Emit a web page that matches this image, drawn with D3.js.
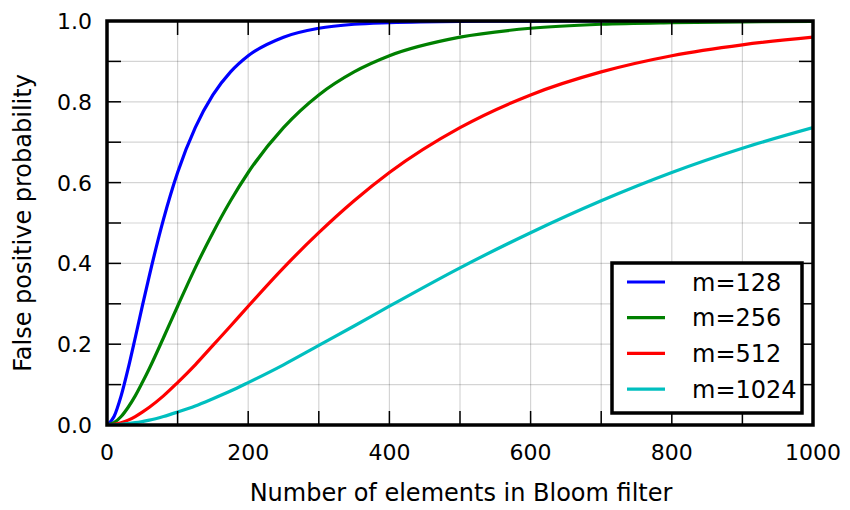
<!DOCTYPE html>
<html>
<head>
<meta charset="utf-8">
<script src="https://cdn.jsdelivr.net/npm/d3@7"></script>
<style>
  body { margin: 0; background: #fff; }
  svg { display: block; font-family: "DejaVu Sans", sans-serif; }
</style>
</head>
<body>
<div id="chart"></div>
<script>
// number of elements (shared x values)
const nValues = [0, 10, 20, 30, 40, 50, 60, 80, 100, 125, 150, 175, 200, 250, 300, 350, 400, 500, 600, 700, 800, 900, 1000];

// false positive probability, one list per filter size
const m128 = [0, 0.021, 0.072, 0.140, 0.216, 0.294, 0.370, 0.509, 0.625, 0.736, 0.817, 0.874, 0.914, 0.960, 0.982, 0.992, 0.996, 0.9992, 0.9998, 1.0, 1.0, 1.0, 1.0];
const m256 = [0, 0.0057, 0.021, 0.044, 0.072, 0.105, 0.140, 0.216, 0.294, 0.389, 0.476, 0.555, 0.625, 0.736, 0.817, 0.874, 0.914, 0.960, 0.982, 0.992, 0.996, 0.998, 0.999];
const m512 = [0, 0.0015, 0.0057, 0.012, 0.021, 0.032, 0.044, 0.072, 0.105, 0.149, 0.197, 0.245, 0.294, 0.389, 0.476, 0.555, 0.625, 0.736, 0.817, 0.874, 0.914, 0.941, 0.960];
const m1024 = [0, 0.0004, 0.0015, 0.0032, 0.0057, 0.0087, 0.012, 0.021, 0.032, 0.047, 0.065, 0.084, 0.105, 0.149, 0.197, 0.245, 0.294, 0.389, 0.476, 0.555, 0.625, 0.685, 0.736];

const seriesNames = ["m=128", "m=256", "m=512", "m=1024"];
const seriesColors = ["#0000ff", "#008000", "#ff0000", "#00bfbf"];
const seriesValues = [m128, m256, m512, m1024];

const xTickLabels = [0, 200, 400, 600, 800, 1000];
const yTickLabels = [0, 0.2, 0.4, 0.6, 0.8, 1.0];

const width = 850, height = 510;
const margin = { top: 21, right: 37, bottom: 85, left: 107 };
const innerWidth = width - margin.left - margin.right;
const innerHeight = height - margin.top - margin.bottom;

const svg = d3.select("#chart").append("svg")
  .attr("width", width).attr("height", height);

// scales in page coordinates
const xScale = d3.scaleLinear().domain([0, 1000]).range([margin.left, margin.left + innerWidth]);
const yScale = d3.scaleLinear().domain([0, 1]).range([margin.top + innerHeight, margin.top]);
const x0 = margin.left, x1 = margin.left + innerWidth;
const y0 = margin.top + innerHeight, y1 = margin.top;

// grid lines every 100 / 0.1
const xMinor = d3.range(0, 1001, 100);
const yMinor = d3.range(0, 11).map(d => d / 10);

svg.append("g").selectAll("line").data(xMinor).join("line")
  .attr("x1", d => xScale(d)).attr("x2", d => xScale(d))
  .attr("y1", y1).attr("y2", y0)
  .attr("stroke", "#000").attr("stroke-opacity", 0.17).attr("stroke-width", 1.2);
svg.append("g").selectAll("line").data(yMinor).join("line")
  .attr("y1", d => yScale(d)).attr("y2", d => yScale(d))
  .attr("x1", x0).attr("x2", x1)
  .attr("stroke", "#000").attr("stroke-opacity", 0.17).attr("stroke-width", 1.2);

// curves
svg.append("clipPath").attr("id", "clip").append("rect")
  .attr("x", x0).attr("y", y1)
  .attr("width", innerWidth).attr("height", innerHeight);

const line = d3.line()
  .x((d, i) => xScale(nValues[i]))
  .y(d => yScale(d))
  .curve(d3.curveMonotoneX);

svg.append("g").attr("clip-path", "url(#clip)")
  .selectAll("path").data(seriesValues).join("path")
  .attr("d", line)
  .attr("fill", "none")
  .attr("stroke", (d, i) => seriesColors[i])
  .attr("stroke-width", 3.2);

// ticks on all four sides, pointing inward
const tickLen = 14;
const tickStyle = sel => sel.attr("stroke", "#000").attr("stroke-width", 1.5);
const ticks = svg.append("g");
xMinor.forEach(v => {
  ticks.append("line").attr("x1", xScale(v)).attr("x2", xScale(v))
    .attr("y1", y0).attr("y2", y0 - tickLen).call(tickStyle);
  ticks.append("line").attr("x1", xScale(v)).attr("x2", xScale(v))
    .attr("y1", y1).attr("y2", y1 + tickLen).call(tickStyle);
});
yMinor.forEach(v => {
  ticks.append("line").attr("y1", yScale(v)).attr("y2", yScale(v))
    .attr("x1", x0).attr("x2", x0 + tickLen).call(tickStyle);
  ticks.append("line").attr("y1", yScale(v)).attr("y2", yScale(v))
    .attr("x1", x1).attr("x2", x1 - tickLen).call(tickStyle);
});

// tick labels
svg.append("g").selectAll("text").data(xTickLabels).join("text")
  .attr("x", d => xScale(d)).attr("y", y0 + 35)
  .attr("text-anchor", "middle").attr("font-size", 22)
  .text(d => d);
svg.append("g").selectAll("text").data(yTickLabels).join("text")
  .attr("x", x0 - 15).attr("y", d => yScale(d) + 8)
  .attr("text-anchor", "end").attr("font-size", 22)
  .text(d3.format(".1f"));

// frame
svg.append("rect").attr("x", x0).attr("y", y1)
  .attr("width", innerWidth).attr("height", innerHeight)
  .attr("fill", "none").attr("stroke", "#000").attr("stroke-width", 3.5);

// axis titles
svg.append("text")
  .attr("x", margin.left + innerWidth / 2 + 1).attr("y", 501)
  .attr("text-anchor", "middle").attr("font-size", 24)
  .text("Number of elements in Bloom filter");
svg.append("text")
  .attr("transform", `translate(31,${margin.top + innerHeight / 2}) rotate(-90)`)
  .attr("text-anchor", "middle").attr("font-size", 24)
  .text("False positive probability");

// legend
const legend = svg.append("g").attr("transform", "translate(612,263)");
legend.append("rect").attr("width", 190).attr("height", 150)
  .attr("fill", "#fff").attr("stroke", "#000").attr("stroke-width", 3.5);
seriesNames.forEach((name, i) => {
  const y = 19 + i * 35.7;
  legend.append("line").attr("x1", 15).attr("x2", 53)
    .attr("y1", y).attr("y2", y)
    .attr("stroke", seriesColors[i]).attr("stroke-width", 3.2);
  legend.append("text").attr("x", 80).attr("y", y + 8.5)
    .attr("font-size", 24).text(name);
});
</script>
</body>
</html>
